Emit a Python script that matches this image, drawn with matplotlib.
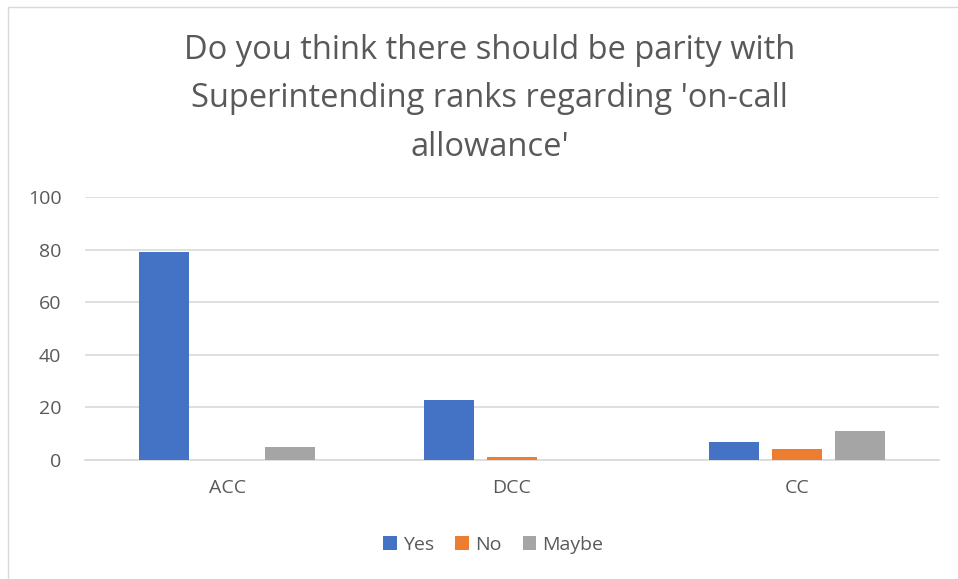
import matplotlib.pyplot as plt
import numpy as np
from matplotlib.patches import Rectangle

categories = ["ACC", "DCC", "CC"]
series_names = ["Yes", "No", "Maybe"]
yes_values = [79, 23, 7]
no_values = [0, 1, 4]
maybe_values = [5, 0, 11]
colors = ["#4472C4", "#ED7D31", "#A5A5A5"]
title = "Do you think there should be parity with\nSuperintending ranks regarding 'on-call\nallowance'"

text_color = "#595959"
plt.rcParams['font.family'] = ['Open Sans', 'DejaVu Sans']

fig = plt.figure(figsize=(9.58, 5.79), dpi=100)
ax = fig.add_axes([85 / 958, 1 - 460 / 579, 854 / 958, 263 / 579])

# chart area frame (right and bottom edges fall outside the picture)
fig.patches.append(Rectangle((8 / 958, -0.05), 1.0, 1 - 7 / 579 + 0.05,
                             transform=fig.transFigure, fill=False,
                             edgecolor="#D9D9D9", lw=1))

x = np.arange(len(categories))
width = 0.176
offset = 0.221
for i, (name, vals) in enumerate(zip(series_names, [yes_values, no_values, maybe_values])):
    ax.bar(x + (i - 1) * offset, vals, width, color=colors[i], label=name, zorder=3)

ax.set_xlim(-0.5, 2.5)
ax.set_ylim(0, 100)
ax.set_yticks(range(0, 101, 20))
ax.set_xticks(x)
ax.set_xticklabels(categories)
ax.grid(axis="y", color="#D9D9D9", lw=1.2, zorder=0)
for s in ["top", "right", "left"]:
    ax.spines[s].set_visible(False)
ax.spines["bottom"].set_color("#D9D9D9")
ax.spines["bottom"].set_linewidth(1.2)
ax.tick_params(length=0, colors=text_color, labelsize=14)
ax.tick_params(axis="y", pad=17)
ax.tick_params(axis="x", pad=14)

fig.text(0.511, 1 - 99 / 579, title, ha="center", va="center", fontsize=23.5,
         color=text_color, linespacing=1.62, transform=fig.transFigure)

ax.legend(loc="center", bbox_to_anchor=(0.478, -0.323), ncol=3, frameon=False,
          fontsize=14, labelcolor=text_color, handlelength=0.7, handleheight=0.7,
          handletextpad=0.3, columnspacing=1.1)

fig.savefig("out.png", dpi=100)
